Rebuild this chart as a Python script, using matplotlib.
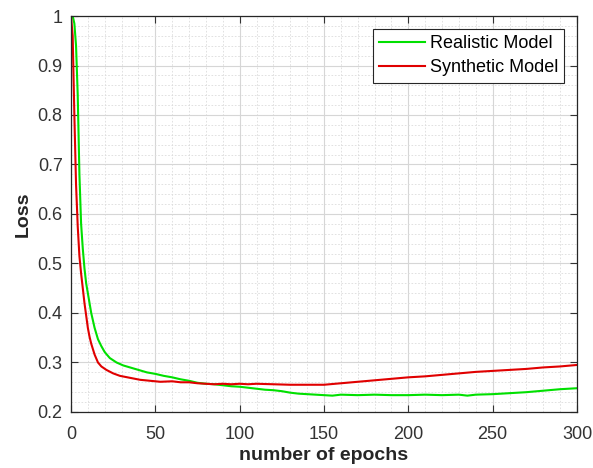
import numpy as np
import matplotlib.pyplot as plt
from matplotlib.ticker import MultipleLocator

plt.rcParams['font.family'] = ['Liberation Sans', 'DejaVu Sans']

# Data
epochs_realistic = [0, 1, 2, 3, 4, 5, 6, 7, 8, 9, 10, 12, 14, 16, 18, 20, 23, 27, 31, 35, 40,
                    45, 50, 55, 60, 65, 70, 75, 80, 85, 90, 95, 100, 105, 110, 115, 120, 125,
                    130, 135, 140, 145, 150, 155, 160, 170, 180, 190, 200, 210, 220, 230, 235,
                    240, 250, 260, 270, 280, 290, 300]
loss_realistic = [1.0, 1.0, 0.985, 0.94, 0.84, 0.68, 0.58, 0.53, 0.49, 0.46, 0.44, 0.40, 0.37,
                  0.347, 0.333, 0.321, 0.309, 0.300, 0.294, 0.290, 0.285,
                  0.280, 0.277, 0.273, 0.270, 0.266, 0.263, 0.259, 0.257, 0.256, 0.254, 0.252,
                  0.251, 0.249, 0.247, 0.245, 0.244, 0.242, 0.239, 0.237, 0.236, 0.235, 0.234,
                  0.233, 0.235, 0.234, 0.235, 0.234, 0.234, 0.235, 0.234, 0.235, 0.233,
                  0.235, 0.236, 0.238, 0.240, 0.243, 0.246, 0.248]

epochs_synthetic = [0, 1, 2, 3, 4, 5, 6, 7, 8, 9, 10, 11, 12, 14, 16, 18, 21, 25, 29, 35, 41,
                    47, 53, 60, 65, 70, 75, 80, 85, 90, 95, 100, 105, 110, 120, 130, 140, 150,
                    160, 170, 180, 190, 200, 210, 220, 230, 240, 250, 260, 270, 280, 290, 300]
loss_synthetic = [1.0, 0.96, 0.80, 0.66, 0.575, 0.515, 0.48, 0.45, 0.42, 0.395, 0.37, 0.352,
                  0.338, 0.316, 0.300, 0.292, 0.285, 0.278, 0.273, 0.269, 0.265,
                  0.263, 0.261, 0.262, 0.260, 0.260, 0.258, 0.257, 0.256, 0.257, 0.256, 0.257,
                  0.256, 0.257, 0.256, 0.255, 0.255, 0.255, 0.258, 0.261, 0.264, 0.267, 0.270,
                  0.272, 0.275, 0.278, 0.281, 0.283, 0.285, 0.287, 0.290, 0.292, 0.295]

fig = plt.figure(figsize=(5.93, 4.68), dpi=100)
ax = fig.add_axes([0.1197, 0.1197, 0.8533, 0.8461])

ax.plot(epochs_realistic, loss_realistic, color='#00e000', linewidth=1.5, label='Realistic Model')
ax.plot(epochs_synthetic, loss_synthetic, color='#e00000', linewidth=1.5, label='Synthetic Model')

ax.set_xlim(0, 300)
ax.set_ylim(0.2, 1.0)
ax.xaxis.set_major_locator(MultipleLocator(50))
ax.xaxis.set_minor_locator(MultipleLocator(10))
ax.yaxis.set_major_locator(MultipleLocator(0.1))
ax.yaxis.set_minor_locator(MultipleLocator(0.02))
ax.set_yticks(np.arange(0.2, 1.01, 0.1))
ax.set_yticklabels(['0.2', '0.3', '0.4', '0.5', '0.6', '0.7', '0.8', '0.9', '1'])

ax.grid(which='major', color='#d6d6d6', linewidth=0.8)
ax.grid(which='minor', color='#dcdcdc', linewidth=0.6, linestyle=(0, (2, 2)))
ax.set_axisbelow(True)

ax.tick_params(which='major', direction='in', length=5, width=0.8, top=True, right=True,
               labelsize=13, colors='#333333')
ax.tick_params(axis='x', which='major', pad=10)
ax.tick_params(axis='y', which='major', pad=6)
ax.tick_params(which='minor', length=0, top=True, right=True)
for s in ax.spines.values():
    s.set_color('#262626')
    s.set_linewidth(0.9)

ax.set_xlabel('number of epochs', fontsize=14, fontweight='bold', color='#262626', labelpad=3)
ax.set_ylabel('Loss', fontsize=14, fontweight='bold', color='#262626', labelpad=4)

leg = ax.legend(loc='upper right', fontsize=13, fancybox=False, framealpha=1,
                edgecolor='#262626', handlelength=2.55, handletextpad=0.25,
                borderpad=0.35, labelspacing=0.4, borderaxespad=0.7)
leg.get_frame().set_linewidth(0.8)

plt.savefig('out.png', dpi=100)
